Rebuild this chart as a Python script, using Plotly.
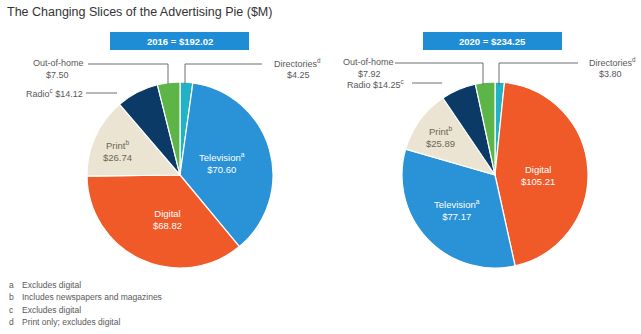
import plotly.graph_objects as go

W, H = 641, 334

categories_2016 = ["Directories", "Television", "Digital", "Print", "Radio", "Out-of-home"]
values_2016 = [4.25, 70.60, 68.82, 26.74, 14.12, 7.50]
categories_2020 = ["Directories", "Digital", "Television", "Print", "Radio", "Out-of-home"]
values_2020 = [3.80, 105.21, 77.17, 25.89, 14.25, 7.92]
totals = ["2016 = $192.02", "2020 = $234.25"]
footnotes = [("a", "Excludes digital"), ("b", "Includes newspapers and magazines"),
             ("c", "Excludes digital"), ("d", "Print only; excludes digital")]

COLORS = {
    "Directories": "#22b2c6",
    "Television": "#2a92d6",
    "Digital": "#f05a28",
    "Print": "#ebe4d2",
    "Radio": "#0c3a66",
    "Out-of-home": "#5db548",
}

def px(x):
    return x / W

def py(y):
    return 1 - y / H

R = 93
CY = 175
centers = [180, 495]

fig = go.Figure()
for cats, vals, cx in [(categories_2016, values_2016, centers[0]), (categories_2020, values_2020, centers[1])]:
    fig.add_trace(go.Pie(
        labels=cats, values=vals, sort=False, direction="clockwise", rotation=0,
        marker=dict(colors=[COLORS[c] for c in cats], line=dict(color="white", width=1.2)),
        textinfo="none", hoverinfo="label+value", showlegend=False,
        domain=dict(x=[px(cx - R), px(cx + R)], y=[py(CY + R), py(CY - R)]),
    ))

FONT = "Liberation Sans, Arial, sans-serif"
ann = []
shapes = []

def text(x, y, s, size=9.0, color="#58595b", anchor="center"):
    ann.append(dict(x=px(x), y=py(y), xref="paper", yref="paper", text=s, showarrow=False,
                    xanchor=anchor, yanchor="middle", align=anchor if anchor != "center" else "center",
                    font=dict(family=FONT, size=size, color=color)))

def line(x0, y0, x1, y1):
    shapes.append(dict(type="line", xref="paper", yref="paper", x0=px(x0), y0=py(y0), x1=px(x1), y1=py(y1),
                       line=dict(color="#6d6e70", width=1)))

# title
text(5, 12, "The Changing Slices of the Advertising Pie ($M)", size=12.5, color="#333333", anchor="left")

# header boxes
for (x0, x1), t in zip([(110, 249), (423, 562)], totals):
    shapes.append(dict(type="rect", xref="paper", yref="paper", x0=px(x0), x1=px(x1), y0=py(50), y1=py(32),
                       fillcolor="#1f8dd6", line=dict(width=0)))
    text((x0 + x1) / 2, 41, "<b>" + t + "</b>", size=9.5, color="white")

SUP = "<sup>%s</sup>"

# left pie outside labels
text(58, 63, "Out-of-home")
text(57, 75, "$" + f"{values_2016[5]:.2f}")
line(88, 64, 168, 64); line(168, 64, 168, 84)
text(54, 93, "Radio" + SUP % "c" + " $" + f"{values_2016[4]:.2f}")
line(86, 93, 117, 93)
text(297, 63, "Directories" + SUP % "d")
text(298, 75, "$" + f"{values_2016[0]:.2f}")
line(185, 84, 185, 64); line(185, 64, 262, 64)

# left pie inside labels
text(117, 151, "Print" + SUP % "b" + "<br>$" + f"{values_2016[3]:.2f}", size=9.5, color="#6b6658")
text(222, 163, "Television" + SUP % "a" + "<br>$" + f"{values_2016[1]:.2f}", size=9.5, color="white")
text(167, 219, "Digital<br>$" + f"{values_2016[2]:.2f}", size=9.5, color="white")

# right pie outside labels
text(368, 62, "Out-of-home")
text(369, 73.5, "$" + f"{values_2020[5]:.2f}")
line(395, 63, 483, 63); line(483, 63, 483, 85)
text(375, 84, "Radio $" + f"{values_2020[4]:.2f}" + SUP % "c")
line(412, 83, 442, 83)
text(612, 62, "Directories" + SUP % "d")
text(610, 73.5, "$" + f"{values_2020[0]:.2f}")
line(499, 85, 499, 63); line(499, 63, 578, 63)

# right pie inside labels
text(440, 137, "Print" + SUP % "b" + "<br>$" + f"{values_2020[3]:.2f}", size=9.5, color="#6b6658")
text(538, 175, "Digital<br>$" + f"{values_2020[1]:.2f}", size=9.5, color="white")
text(457, 210, "Television" + SUP % "a" + "<br>$" + f"{values_2020[2]:.2f}", size=9.5, color="white")

# footnotes
for i, (k, t) in enumerate(footnotes):
    y = 285 + i * 12.3
    text(7, y, k, size=8.5, anchor="left")
    text(20, y, t, size=8.5, anchor="left")

fig.update_layout(width=W, height=H, margin=dict(l=0, r=0, t=0, b=0),
                  paper_bgcolor="white", plot_bgcolor="white",
                  annotations=ann, shapes=shapes)
fig.write_html("out.html")
